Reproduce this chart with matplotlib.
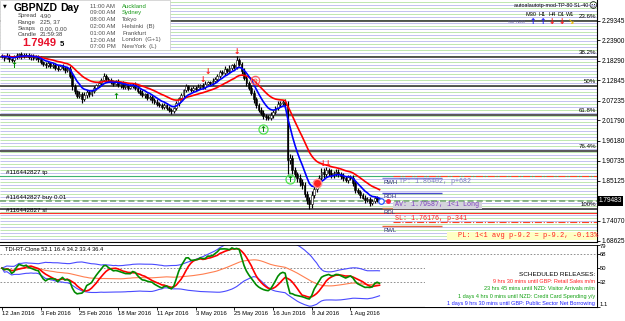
import numpy as np
import pandas as pd
import matplotlib
matplotlib.use("Agg")
import matplotlib.pyplot as plt
from matplotlib.patches import Rectangle

plt.rcParams['font.family'] = ['Liberation Sans', 'DejaVu Sans']

W, H = 625, 321

# ---------------- data ----------------
closes = [
    2.1950, 2.1905, 2.1960, 2.1880, 2.1850, 2.1920, 2.1975, 2.2010, 2.1960, 2.1990,
    2.1985, 2.1930, 2.1965, 2.1900, 2.1935, 2.1880, 2.1790, 2.1740, 2.1700, 2.1760,
    2.1680, 2.1720, 2.1640, 2.1600, 2.1680, 2.1630, 2.1560, 2.1610, 2.1420, 2.1120,
    2.0980, 2.0860, 2.0900, 2.0760, 2.0880, 2.0960, 2.0900, 2.0990, 2.1070, 2.1150,
    2.1220, 2.1300, 2.1400, 2.1330, 2.1290, 2.1250, 2.1200, 2.1260, 2.1160, 2.1210,
    2.1100, 2.1150, 2.1080, 2.1130, 2.1170, 2.1080, 2.1000, 2.0940, 2.0880, 2.0900,
    2.0800, 2.0830, 2.0740, 2.0700, 2.0640, 2.0600, 2.0560, 2.0610, 2.0520, 2.0470,
    2.0440, 2.0520, 2.0650, 2.0790, 2.0880, 2.1010, 2.1120, 2.1060, 2.1020, 2.1080,
    2.1060, 2.1110, 2.1150, 2.1100, 2.1190, 2.1230, 2.1210, 2.1280, 2.1320, 2.1400,
    2.1520, 2.1480, 2.1600, 2.1550, 2.1640, 2.1700, 2.1650, 2.1850, 2.1740, 2.1550,
    2.1360, 2.1220, 2.1080, 2.0950, 2.0760, 2.0600, 2.0480, 2.0390, 2.0310, 2.0280,
    2.0250, 2.0330, 2.0410, 2.0520, 2.0630, 2.0660, 2.0690, 2.0600, 1.9100, 1.9150,
    1.8810, 1.8700, 1.8590, 1.8480, 1.8400, 1.8150, 1.7980, 1.7870, 1.8120, 1.8300,
    1.8420, 1.8600, 1.8760, 1.8700, 1.8810, 1.8740, 1.8670, 1.8720, 1.8760, 1.8690,
    1.8650, 1.8580, 1.8540, 1.8620, 1.8590, 1.8450, 1.8260, 1.8200, 1.8120, 1.8050,
    1.7980, 1.8010, 1.7900, 1.7960, 1.8040, 1.7990, 1.7948]

wick_up = [
    .006, .004, .007, .005, .003, .006, .008, .004, .005, .006,
    .004, .007, .005, .006, .004, .005, .007, .003, .006, .005,
    .004, .006, .005, .007, .004, .006, .005, .004, .006, .008,
    .007, .005, .009, .006, .008, .005, .007, .004, .006, .005,
    .006, .004, .008, .005, .006, .007, .004, .005, .006, .004,
    .005, .007, .004, .006, .005, .006, .004, .005, .007, .004,
    .005, .006, .004, .005, .006, .004, .007, .005, .004, .006,
    .005, .004, .006, .005, .007, .004, .006, .005, .004, .006,
    .005, .007, .004, .006, .008, .005, .004, .006, .005, .007,
    .006, .005, .007, .004, .006, .005, .008, .012, .006, .005,
    .007, .006, .005, .008, .006, .007, .005, .006, .008, .005,
    .006, .007, .005, .006, .008, .006, .005, .007, .012, .010,
    .009, .008, .007, .010, .008, .007, .009, .008, .010, .007,
    .009, .008, .012, .010, .008, .007, .009, .006, .008, .007,
    .006, .008, .007, .005, .006, .008, .007, .006, .005, .007,
    .006, .005, .007, .006, .005, .006, .004]

wick_dn = [
    .005, .007, .004, .008, .006, .005, .004, .006, .007, .005,
    .006, .005, .007, .004, .006, .008, .005, .006, .007, .004,
    .006, .005, .007, .006, .004, .006, .007, .005, .008, .010,
    .008, .007, .006, .009, .005, .007, .006, .005, .004, .006,
    .005, .006, .004, .007, .005, .006, .008, .005, .006, .007,
    .006, .005, .007, .004, .006, .005, .007, .006, .005, .008,
    .006, .005, .007, .006, .005, .006, .007, .005, .006, .007,
    .008, .006, .005, .006, .004, .006, .005, .007, .006, .005,
    .006, .005, .007, .005, .006, .004, .006, .005, .007, .005,
    .006, .005, .004, .007, .005, .006, .005, .004, .007, .008,
    .007, .008, .006, .007, .009, .007, .008, .006, .009, .008,
    .007, .006, .008, .005, .006, .007, .005, .008, .040, .012,
    .010, .009, .011, .010, .012, .009, .011, .014, .010, .008,
    .009, .008, .007, .010, .008, .009, .007, .008, .006, .007,
    .008, .006, .007, .008, .006, .007, .008, .006, .007, .005,
    .007, .006, .008, .005, .006, .005, .004]

date_bars = [0, 16, 32, 48, 64, 80, 96, 112, 128, 144]
date_labels = ["12 Jan 2016", "3 Feb 2016", "25 Feb 2016", "18 Mar 2016", "11 Apr 2016",
               "3 May 2016", "25 May 2016", "16 Jun 2016", "8 Jul 2016", "1 Aug 2016"]
price_ticks = [2.29345, 2.23900, 2.18290, 2.12845, 2.07235, 2.01790, 1.96180,
               1.90735, 1.85125, 1.74070, 1.68625]
bid_price = 1.79483

fib_high = 2.4530
fib_low = 1.7735
fib_ratios = [0.236, 0.382, 0.5, 0.618, 0.764, 1.0]
fib_names = ["23.6%", "38.2%", "50%", "61.8%", "76.4%", "100%"]

tp_price = 1.86402
entry_price = 1.79587
sl_price = 1.76176
extra_level = 1.7377
range_levels = [1.8591, 1.8191, 1.7763, 1.7266]
range_names = ["RWH", "RDH", "RDL", "RWL"]
range_colors = ["#8a8ae0", "#4a4ad0", "#c8845a", "#e8643c"]

buy_bars = [5, 47, 108, 119]
buy_prices = [2.171, 2.083, 1.994, 1.856]
sell_bars = [83, 85, 97, 132.6, 134.8]
sell_prices = [2.130, 2.152, 2.208, 1.900, 1.900]
ring_red_bar, ring_red_price = 104.5, 2.1297
ring_green_bars = [108, 119]
ring_green_prices = [1.994, 1.856]
dot_red_bar, dot_red_price = 130.2, 1.8453

tdi_levels = [68, 50, 32]
tdi_axis_labels = ["79", "68", "50", "32", "1.1"]
tdi_title = "TDI-RT-Clone 52.1 16.4 34.2 33.4 36.4"

releases = [("9 hrs 30 mins until GBP: Retail Sales m/m", "#ff2020"),
            ("23 hrs 45 mins until NZD: Visitor Arrivals m/m", "#10a010"),
            ("1 days 4 hrs 0 mins until NZD: Credit Card Spending y/y", "#10a010"),
            ("1 days 9 hrs 30 mins until GBP: Public Sector Net Borrowing", "#2020ff")]

times = ["11:00 AM", "09:00 AM", "08:00 AM", "02:00 AM", "01:00 AM", "12:00 AM", "07:00 PM"]
cities = ["Auckland", "Sydney", "Tokyo", "Helsinki  (B)", "Frankfurt", "London  (G+1)", "NewYork  (L)"]

# ---------------- geometry ----------------
PX_BAR = 2.42
PP = 0.002761
P_TOP = 2.3506
P_BOT = P_TOP - 242 * PP

fig = plt.figure(figsize=(W / 100, H / 100), dpi=100)
fig.patch.set_facecolor("white")

def ftext(px, py, s, **kw):
    kw.setdefault("va", "center")
    kw.setdefault("zorder", 10)
    return fig.text(px / W, 1 - py / H, s, **kw)

ax = fig.add_axes([0, 1 - 242 / H, 597 / W, 242 / H])
ax2 = fig.add_axes([0, 1 - 307 / H, 597 / W, 62 / H])
xlim = (-2 / PX_BAR, 595 / PX_BAR)
for a in (ax, ax2):
    a.set_xlim(*xlim)
    a.set_facecolor("white")
    for s_ in ("top", "left"):
        a.spines[s_].set_visible(False)
    for s_ in ("right", "bottom"):
        a.spines[s_].set_color("black")
        a.spines[s_].set_linewidth(0.8)
ax2.spines["top"].set_visible(True)
ax2.spines["top"].set_linewidth(0.6)
ax.set_ylim(P_BOT, P_TOP)

# background stripes
lv = [P_TOP - (k + 1.5) * PP for k in range(0, 242, 3)]
cols = ["#bfe8b0" if j % 2 == 0 else "#c2c2f0" for j in range(len(lv))]
ax.hlines(lv, xlim[0], xlim[1], colors=cols, lw=0.7, zorder=0)

# fibonacci
for r, nm in zip(fib_ratios, fib_names):
    lvl = fib_high - r * (fib_high - fib_low)
    ax.axhline(lvl, color="#2a2a2a", lw=1.1, zorder=1)
    ax.annotate(nm, xy=(1, lvl), xycoords=("axes fraction", "data"), xytext=(-0.5, 3.4),
                textcoords="offset points", ha="right", va="center", fontsize=4.4, color="black", zorder=6)

# trade lines
ax.axhline(tp_price, color="#3cb371", lw=0.8, zorder=2)
ax.axhline(entry_price, color="#6f9f6f", lw=1.1, ls=(0, (4, 2)), zorder=2)
ax.axhline(sl_price, color="#ff3030", lw=0.8, zorder=2)
xr0 = (393 - 2) / PX_BAR
ax.hlines([tp_price, extra_level], xr0, xlim[1], colors="#ff4020", lw=0.8, linestyles="dashdot", zorder=3)
for lvl, c_ in zip(range_levels, range_colors):
    ax.hlines(lvl, (382 - 2) / PX_BAR, (442 - 2) / PX_BAR, colors=c_, lw=1.0, zorder=3)

# candles
x = np.arange(len(closes))
c = np.array(closes)
o = np.concatenate([[closes[0]], c[:-1]])
hi = np.maximum(o, c) + np.array(wick_up)
lo = np.minimum(o, c) - np.array(wick_dn)
ax.vlines(x, lo, hi, color="black", lw=0.85, zorder=4)
body_h = np.maximum(np.abs(c - o), 0.0008)
fc = ["white" if cc >= oo else "black" for cc, oo in zip(c, o)]
ax.bar(x, body_h, bottom=np.minimum(o, c), width=0.75, color=fc, edgecolor="black", lw=0.4, zorder=5)

# moving averages
s = pd.Series(closes)
ax.plot(x, s.ewm(span=21, adjust=False).mean(), color="#ff0000", lw=1.2, zorder=6)
ax.plot(x, s.ewm(span=8, adjust=False).mean(), color="#0000ff", lw=1.2, zorder=7)

# signals
for b, p in zip(buy_bars, buy_prices):
    ax.text(b, p, "\u2191", color="#008a00", fontsize=6, fontweight="bold", ha="center", va="center",
            family="DejaVu Sans", zorder=9)
for b, p in zip(sell_bars, sell_prices):
    ax.text(b, p, "\u2193", color="#ff1010", fontsize=5.5, fontweight="bold", ha="center", va="center",
            family="DejaVu Sans", zorder=9)
ax.plot([ring_red_bar], [ring_red_price], marker="o", ms=6, mfc="none", mec="#ff6060", mew=0.9, zorder=9)
ax.plot([ring_red_bar], [ring_red_price], marker="o", ms=2.2, mfc="none", mec="#ff6060", mew=0.6, zorder=9)
ax.plot(ring_green_bars, ring_green_prices, ls="none", marker="o", ms=6.5, mfc="none", mec="#50e050", mew=0.9, zorder=9)
ax.plot([dot_red_bar], [dot_red_price], marker="o", ms=6, mfc="#ff2020", mec="#ff9090", mew=1.0, zorder=9)
ax.plot([(381 - 2) / PX_BAR], [entry_price], marker="o", ms=4, mfc="white", mec="#2050ff", mew=0.9, zorder=9)
ax.plot([(388 - 2) / PX_BAR], [entry_price], marker="o", ms=2.5, mfc="#ff2040", mec="#ff2040", zorder=9)

# price axis
ax.yaxis.tick_right()
ax.set_yticks(price_ticks)
ax.set_yticklabels([f"{v:.5f}" for v in price_ticks])
ax.tick_params(axis="y", labelsize=4.7, length=2.5, pad=1, width=0.6)
ax.set_xticks([])
ftext(598.5, 201, f"{bid_price:.5f}", color="white", fontsize=4.7, ha="left",
      bbox=dict(facecolor="black", edgecolor="none", pad=0.8))

# ---------------- TDI ----------------
d = s.diff().fillna(0).to_numpy()
seed = np.abs(d[1:14]).mean() / 2
ag, al = seed, seed
rsi_vals = []
for dv in d:
    ag = (ag * 12 + max(dv, 0)) / 13
    al = (al * 12 + max(-dv, 0)) / 13
    rsi_vals.append(100 * ag / (ag + al))
rsi = pd.Series(rsi_vals)
green = rsi.rolling(2, min_periods=1).mean()
red = rsi.rolling(7, min_periods=1).mean()
mid = rsi.rolling(34, min_periods=1).mean()
sd = rsi.rolling(34, min_periods=1).std(ddof=0).fillna(0)
ax2.set_ylim(1.1, 79)
for lvl in tdi_levels:
    ax2.axhline(lvl, color="#808080", lw=0.6, ls=(0, (2, 2)), zorder=1)
ax2.plot(x, mid + 1.6185 * sd, color="#4a4aff", lw=0.8, zorder=2)
ax2.plot(x, mid - 1.6185 * sd, color="#4a4aff", lw=0.8, zorder=2)
ax2.plot(x, mid, color="#ff7f50", lw=0.8, zorder=2)
ax2.plot(x, red, color="#ff0000", lw=1.2, zorder=3)
ax2.plot(x, green, color="#008a00", lw=1.2, zorder=4)
ax2.set_yticks([79] + tdi_levels + [1.1])
ax2.set_yticklabels([])
ax2.yaxis.tick_right()
ax2.tick_params(axis="y", length=2.5, width=0.6)
ax2.set_xticks(date_bars)
ax2.set_xticklabels([])
ax2.tick_params(axis="x", length=2.5, width=0.6, direction="out")
ax2.add_patch(Rectangle(((425 - 2) / PX_BAR, 1.1), (597 - 425) / PX_BAR, 62, facecolor="white",
                        edgecolor="none", zorder=5))
for lab, py in zip(tdi_axis_labels, [246.3, 254.2, 268, 283, 304]):
    ftext(600, py, lab, fontsize=4.2, ha="left")
ftext(5, 249.5, tdi_title, fontsize=4.1, ha="left")
ftext(595, 274.3, "SCHEDULED RELEASES:", fontsize=4.6, ha="right", color="black")
for k, (t, col) in enumerate(releases):
    ftext(595, 281.7 + 7.3 * k, t, fontsize=4.0, ha="right", color=col)

for b, lab in zip(date_bars, date_labels):
    ftext(2 + PX_BAR * b, 313.5, lab, fontsize=4.2, ha="left")

# ---------------- overlays on the price chart ----------------
fig.add_artist(Rectangle((0, 1 - 50 / H), 170 / W, 50 / H, transform=fig.transFigure,
                         facecolor="white", edgecolor="#c8c8c8", lw=0.5, zorder=8))
ftext(5, 6, "\u25BC", fontsize=3.5, ha="center", family="DejaVu Sans")
ftext(14, 8, "GBPNZD", fontsize=7.5, fontweight="bold", ha="left")
ftext(60, 8, "Day", fontsize=7.5, fontweight="bold", ha="left")
for k, (lab, val) in enumerate([("Spread", "4.90"), ("Range", "225, 37"), ("Swaps", "0.00, 0.00"),
                                ("Candle", "21:59:38")]):
    ftext(18, 16 + 6.2 * k, lab, fontsize=4.3, ha="left", color="#404040")
    ftext(40, 16 + 6.2 * k, val, fontsize=4.3, ha="left", color="#404040")
ftext(22, 43.5, "1.7949", fontsize=8, fontweight="bold", ha="left", color="#e8102a")
ftext(60, 44, "5", fontsize=5.5, fontweight="bold", ha="left", color="black")
for k, (t, cty) in enumerate(zip(times, cities)):
    ftext(90, 6 + 6.8 * k, t, fontsize=4.3, ha="left", color="#505050")
    ftext(122, 6 + 6.8 * k, cty, fontsize=4.3, ha="left", color="#1a9a1a" if k < 2 else "#505050")

ftext(588, 6, "autoalautotp-mod-TP-80 SL-40", fontsize=3.9, ha="right")
ftext(593, 6, "\u263A", fontsize=6, ha="center", family="DejaVu Sans")
for lab, px in zip(["M30", "H1", "H4", "D1", "W1"], [531, 542.5, 552, 561.5, 570.5]):
    ftext(px, 15, lab, fontsize=4.0, ha="center")
for sym, col, px in zip(["\u2191", "\u2191", "\u2193", "\u2193", "\u2198"],
                        ["#1a1aff", "#1a1aff", "#ff1010", "#ff1010", "#f0c000"],
                        [533, 543, 552, 562, 571]):
    ftext(px, 22, sym, fontsize=5.5, fontweight="bold", ha="center", color=col, family="DejaVu Sans")
ftext(517, 22, "GBPNZD", fontsize=3.2, ha="center", color="#6060a0")

ftext(6, 172.5, "#116442827 tp", fontsize=4.5, ha="left")
ftext(6, 197.3, "#116442827 buy 0.01", fontsize=4.5, ha="left")
ftext(6, 210, "#116442827 sl", fontsize=4.5, ha="left")

for nm, py in zip(range_names, [183, 197, 212, 231]):
    ftext(383, py, nm, fontsize=4.3, ha="left", color="#303080")
mono = ["Liberation Mono", "DejaVu Sans Mono"]
ftext(399, 182, f"TP: {tp_price:.5f}, p+682", fontsize=4.9, ha="left", color="#7d7dc0", family=mono)
fig.add_artist(Rectangle((393 / W, 1 - 209 / H), 89 / W, 7.5 / H, transform=fig.transFigure,
                         facecolor="#d4d4dc", edgecolor="none", zorder=9))
ftext(395, 205, f"AV: {entry_price:.5f}, 1<1 Long", fontsize=4.9, ha="left", color="#8040c0", family=mono)
ftext(395, 218.5, f"SL: {sl_price:.5f}, p-341", fontsize=4.9, ha="left", color="#ff2020", family=mono)
fig.add_artist(Rectangle((447 / W, 1 - 239.5 / H), 150 / W, 8 / H, transform=fig.transFigure,
                         facecolor="#ffffc4", edgecolor="none", zorder=9))
ftext(458, 235.5, "PL: 1<1 avg p-9.2 = p-9.2, -0.13%", fontsize=5, ha="left", color="#ff2020", family=mono)

fig.savefig("out.png", dpi=100)
